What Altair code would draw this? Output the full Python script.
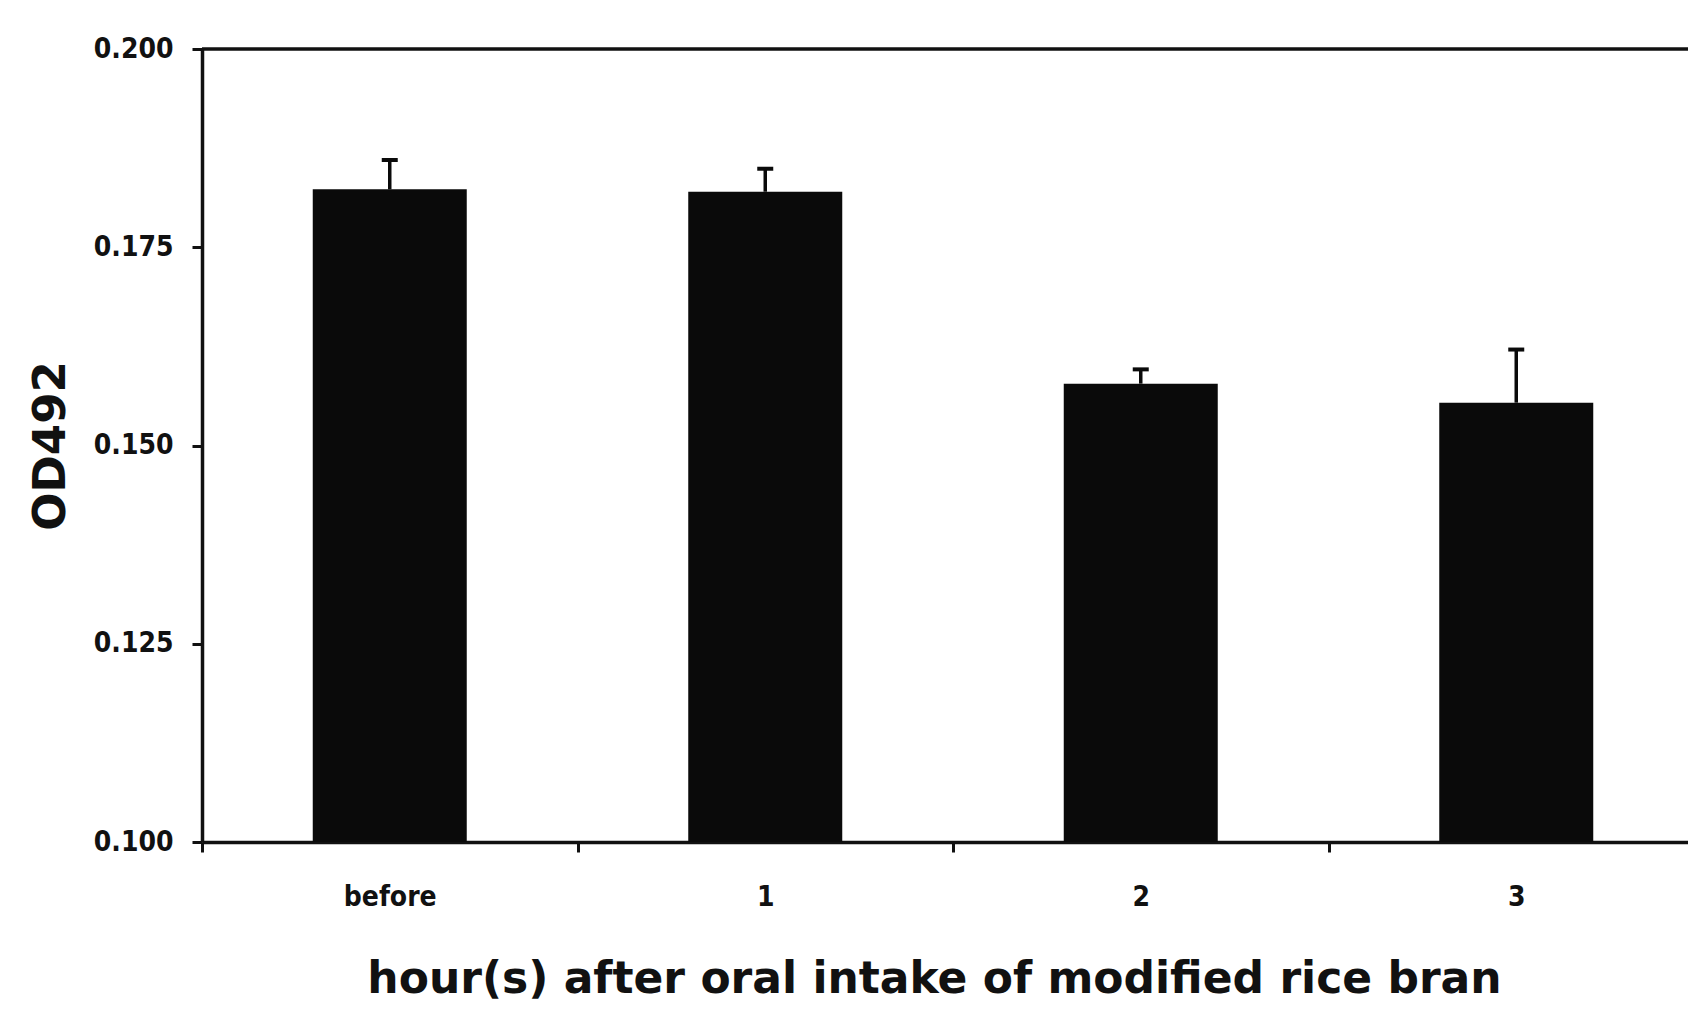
import altair as alt
import pandas as pd

categories = ["before", "1", "2", "3"]
means = [0.1823, 0.1820, 0.1578, 0.1554]
upper = [0.1860, 0.1849, 0.1596, 0.1621]
y_ticks = [0.100, 0.125, 0.150, 0.175, 0.200]

df = pd.DataFrame({"hour": categories, "od": means, "up": upper})

NARROW = "Liberation Sans Narrow, DejaVu Sans Condensed, sans-serif"
BOLD = "DejaVu Sans, sans-serif"

xscale = alt.Scale(domain=categories, paddingInner=0, paddingOuter=0, range=[0, 1502])
yscale = alt.Scale(domain=[0.1, 0.2], nice=False, zero=False)

x_axis = alt.Axis(
    title="hour(s) after oral intake of modified rice bran",
    labelAngle=0,
    labelFont=NARROW, labelFontSize=28, labelFontWeight="bold", labelColor="#111111",
    labelBaseline="alphabetic", labelPadding=53,
    tickBand="extent", tickSize=10, tickWidth=3, tickColor="#111111",
    domainWidth=3.5, domainColor="#111111",
    titleFont=BOLD, titleFontSize=44, titleFontWeight="bold", titleColor="#111111",
    titleX=732, titleY=150, titleBaseline="alphabetic", titleAlign="center",
    grid=False,
)
y_axis = alt.Axis(
    title="OD492",
    values=y_ticks, format=".3f",
    labelFont=NARROW, labelFontSize=28, labelFontWeight="bold", labelColor="#111111",
    labelPadding=19,
    tickSize=10, tickWidth=3, tickColor="#111111",
    domainWidth=3.5, domainColor="#111111",
    titleFont=BOLD, titleFontSize=45, titleFontWeight="bold", titleColor="#111111",
    titleAngle=270, titleX=-152, titleY=396.5, titleBaseline="middle", titleAlign="center",
    grid=False,
)

base = alt.Chart(df)

bars = base.mark_bar(color="#0a0a0a", width=154).encode(
    x=alt.X("hour:N", scale=xscale, axis=x_axis, sort=categories),
    y=alt.Y("od:Q", scale=yscale, axis=y_axis),
    y2=alt.datum(0.1),
)
err = base.mark_rule(color="#0a0a0a", strokeWidth=3.5).encode(
    x=alt.X("hour:N", sort=categories),
    y="od:Q",
    y2="up:Q",
)
cap = base.mark_tick(color="#0a0a0a", size=16, thickness=4, opacity=1).encode(
    x=alt.X("hour:N", sort=categories),
    y="up:Q",
)
top = alt.Chart(pd.DataFrame({"v": [0.2]})).mark_rule(color="#111111", strokeWidth=3.5).encode(
    y="v:Q"
)

chart = alt.layer(bars, err, cap, top).properties(
    width=1486,
    height=793,
    autosize=alt.AutoSizeParams(type="none"),
    padding={"left": 194, "top": 41, "right": 0, "bottom": 160},
    background="white",
).configure_view(strokeWidth=0)

chart.save("out.html", embed_options={"renderer": "svg", "actions": False})
